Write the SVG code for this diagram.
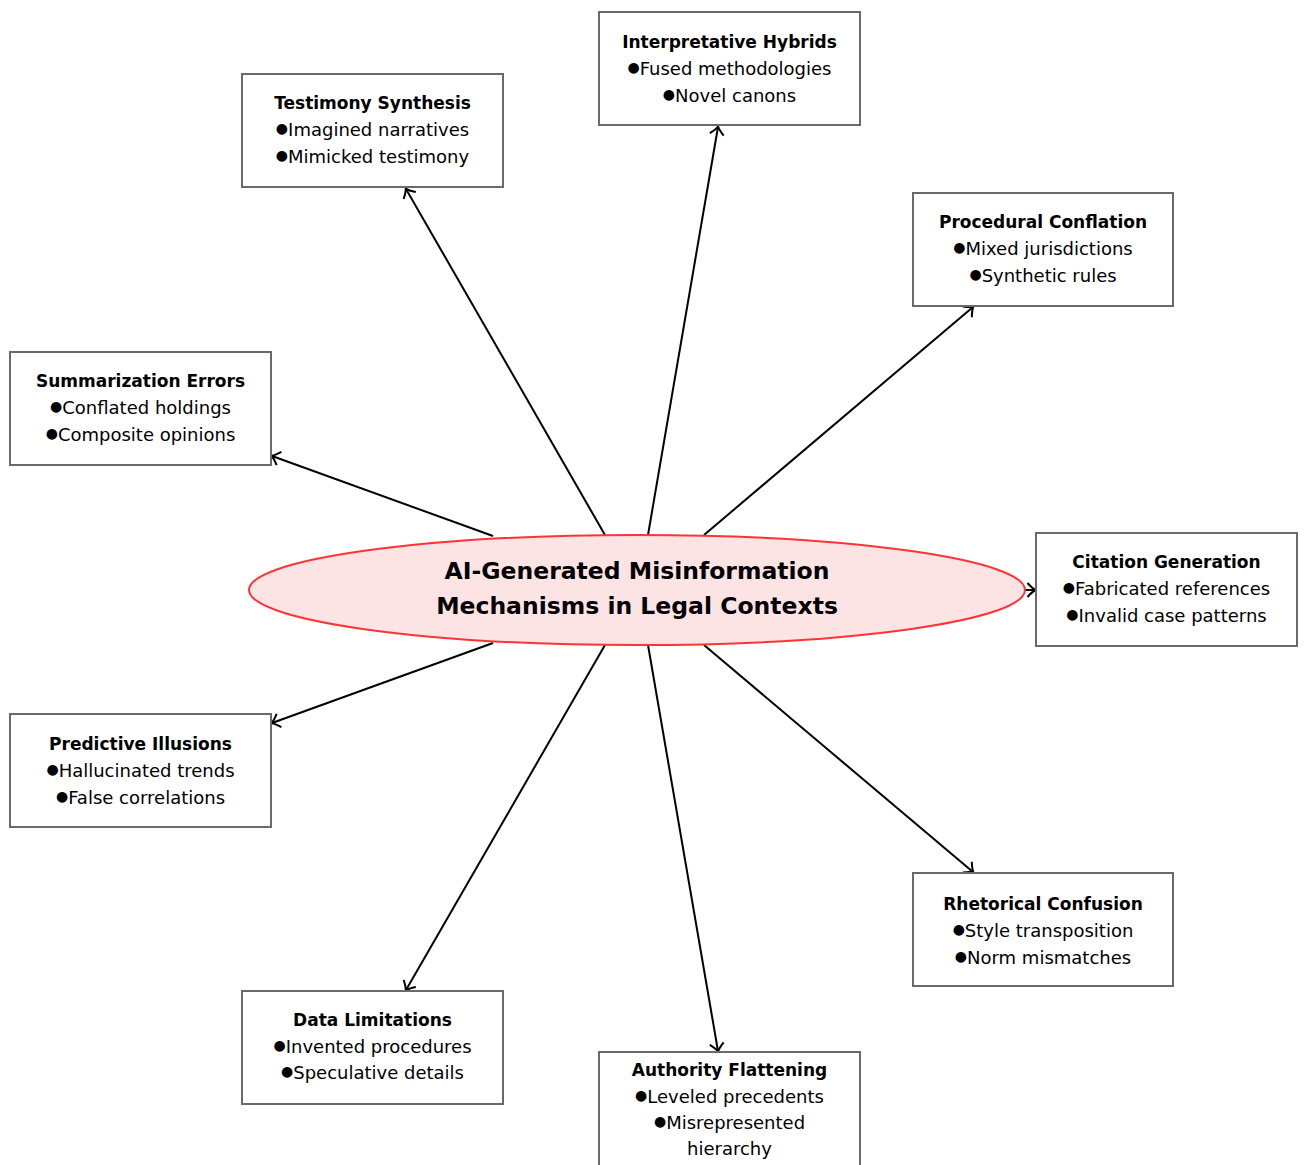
<svg xmlns="http://www.w3.org/2000/svg" width="1305" height="1165" viewBox="0 0 1305 1165">
<style>
.box{fill:#fff;stroke:#6a6a6a;stroke-width:2}
.t{font-family:"DejaVu Sans",sans-serif;font-size:17px;font-weight:bold;text-anchor:middle;fill:#000}
.b{font-family:"DejaVu Sans",sans-serif;font-size:18px;text-anchor:middle;fill:#000}
.d{font-size:14px;baseline-shift:3px}
.c{font-family:"DejaVu Sans",sans-serif;font-size:23.5px;font-weight:bold;text-anchor:middle;fill:#000}
.e{stroke:#000;stroke-width:2;fill:none;marker-end:url(#to)}
</style>
<defs>
<marker id="to" markerUnits="userSpaceOnUse" markerWidth="20" markerHeight="20" refX="10" refY="10" orient="auto" overflow="visible">
<path d="M2.5 3 Q7.5 8.5 10.5 10 Q7.5 11.5 2.5 17" fill="none" stroke="#000" stroke-width="2"/>
</marker>
</defs>
<g id="connectors">
<line class="e" x1="605" y1="535" x2="406" y2="189"/>
<line class="e" x1="648" y1="535" x2="718" y2="127"/>
<line class="e" x1="704" y1="535" x2="973" y2="307"/>
<line class="e" x1="493" y1="536" x2="272" y2="456"/>
<line class="e" x1="1025" y1="590" x2="1035" y2="590"/>
<line class="e" x1="493" y1="643" x2="272" y2="723"/>
<line class="e" x1="704" y1="645" x2="973" y2="872"/>
<line class="e" x1="605" y1="645" x2="406" y2="990"/>
<line class="e" x1="648" y1="645" x2="718" y2="1051"/>
</g>
<g id="center">
<ellipse cx="637" cy="590" rx="388" ry="55" fill="#fde4e4" stroke="#ff3333" stroke-width="2"/>
<text class="c" x="637" y="579">AI-Generated Misinformation</text>
<text class="c" x="637" y="614">Mechanisms in Legal Contexts</text>
</g>
<g id="testimony" transform="translate(242,74)">
<rect class="box" width="261" height="113"/>
<text class="t" x="130.5" y="35">Testimony Synthesis</text>
<text class="b" x="130.5" y="62"><tspan class="d">●</tspan>Imagined narratives</text>
<text class="b" x="130.5" y="89"><tspan class="d">●</tspan>Mimicked testimony</text>
</g>
<g id="interpretative" transform="translate(599,12)">
<rect class="box" width="261" height="113"/>
<text class="t" x="130.5" y="36">Interpretative Hybrids</text>
<text class="b" x="130.5" y="63"><tspan class="d">●</tspan>Fused methodologies</text>
<text class="b" x="130.5" y="90"><tspan class="d">●</tspan>Novel canons</text>
</g>
<g id="procedural" transform="translate(913,193)">
<rect class="box" width="260" height="113"/>
<text class="t" x="130" y="35">Procedural Conflation</text>
<text class="b" x="130" y="62"><tspan class="d">●</tspan>Mixed jurisdictions</text>
<text class="b" x="130" y="89"><tspan class="d">●</tspan>Synthetic rules</text>
</g>
<g id="summarization" transform="translate(10,352)">
<rect class="box" width="261" height="113"/>
<text class="t" x="130.5" y="35">Summarization Errors</text>
<text class="b" x="130.5" y="62"><tspan class="d">●</tspan>Conflated holdings</text>
<text class="b" x="130.5" y="89"><tspan class="d">●</tspan>Composite opinions</text>
</g>
<g id="citation" transform="translate(1036,533)">
<rect class="box" width="261" height="113"/>
<text class="t" x="130.5" y="35">Citation Generation</text>
<text class="b" x="130.5" y="62"><tspan class="d">●</tspan>Fabricated references</text>
<text class="b" x="130.5" y="89"><tspan class="d">●</tspan>Invalid case patterns</text>
</g>
<g id="predictive" transform="translate(10,714)">
<rect class="box" width="261" height="113"/>
<text class="t" x="130.5" y="36">Predictive Illusions</text>
<text class="b" x="130.5" y="63"><tspan class="d">●</tspan>Hallucinated trends</text>
<text class="b" x="130.5" y="90"><tspan class="d">●</tspan>False correlations</text>
</g>
<g id="rhetorical" transform="translate(913,873)">
<rect class="box" width="260" height="113"/>
<text class="t" x="130" y="37">Rhetorical Confusion</text>
<text class="b" x="130" y="64"><tspan class="d">●</tspan>Style transposition</text>
<text class="b" x="130" y="91"><tspan class="d">●</tspan>Norm mismatches</text>
</g>
<g id="data" transform="translate(242,991)">
<rect class="box" width="261" height="113"/>
<text class="t" x="130.5" y="35">Data Limitations</text>
<text class="b" x="130.5" y="62"><tspan class="d">●</tspan>Invented procedures</text>
<text class="b" x="130.5" y="88"><tspan class="d">●</tspan>Speculative details</text>
</g>
<g id="authority" transform="translate(599,1052)">
<rect class="box" width="261" height="130"/>
<text class="t" x="130.5" y="24">Authority Flattening</text>
<text class="b" x="130.5" y="51"><tspan class="d">●</tspan>Leveled precedents</text>
<text class="b" x="130.5" y="77"><tspan class="d">●</tspan>Misrepresented</text>
<text class="b" x="130.5" y="103">hierarchy</text>
</g>
</svg>
